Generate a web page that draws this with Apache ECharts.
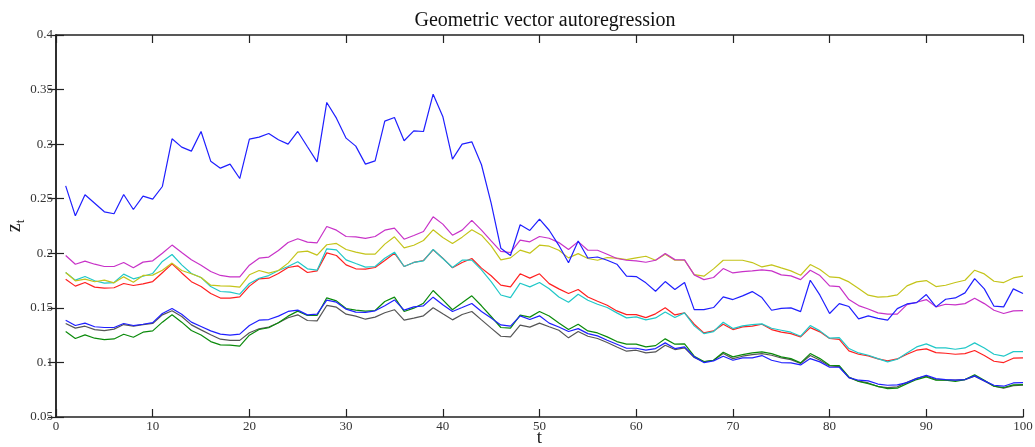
<!DOCTYPE html>
<html><head><meta charset="utf-8">
<script src="https://cdn.jsdelivr.net/npm/echarts@6/dist/echarts.min.js"></script>
<style>html,body{margin:0;padding:0;background:#fff}#c{width:1035px;height:447px}</style>
</head><body><div id="c"></div>
<script>
const titleText = 'Geometric vector autoregression';
const xTicks = [0,10,20,30,40,50,60,70,80,90,100];
const yTicks = [0.05,0.1,0.15,0.2,0.25,0.3,0.35,0.4];

const blueHigh = [0.2618,0.2343,0.2536,0.2459,0.2380,0.2362,0.2539,0.2401,0.2524,0.2496,
0.2612,0.3049,0.2973,0.2936,0.3116,0.2844,0.2780,0.2817,0.2685,0.3046,
0.3064,0.3098,0.3040,0.3000,0.3116,0.2976,0.2838,0.3382,0.3238,0.3055,
0.2982,0.2817,0.2847,0.3211,0.3244,0.3031,0.3122,0.3116,0.3458,0.3254,
0.2863,0.3000,0.3021,0.2811,0.2459,0.2047,0.1980,0.2261,0.2209,0.2313,
0.2211,0.2073,0.1914,0.2112,0.1957,0.1966,0.1936,0.1900,0.1790,0.1787,
0.1729,0.1652,0.1741,0.1668,0.1732,0.1484,0.1484,0.1503,0.1600,0.1576,
0.1610,0.1649,0.1594,0.1478,0.1496,0.1500,0.1466,0.1753,0.1616,0.1448,
0.1539,0.1512,0.1399,0.1426,0.1404,0.1387,0.1493,0.1536,0.1548,0.1622,
0.1509,0.1579,0.1591,0.1637,0.1768,0.1674,0.1515,0.1509,0.1674,0.1631];

const magenta = [0.1980,0.1900,0.1928,0.1900,0.1879,0.1879,0.1916,0.1867,0.1919,0.1931,
0.2001,0.2075,0.2007,0.1940,0.1891,0.1833,0.1797,0.1784,0.1784,0.1891,
0.1955,0.1965,0.2026,0.2099,0.2133,0.2102,0.2096,0.2246,0.2212,0.2154,
0.2151,0.2136,0.2154,0.2212,0.2230,0.2129,0.2163,0.2200,0.2334,0.2267,
0.2166,0.2212,0.2301,0.2212,0.2114,0.2017,0.2007,0.2120,0.2105,0.2154,
0.2138,0.2098,0.2034,0.2107,0.2028,0.2028,0.1991,0.1952,0.1936,0.1930,
0.1918,0.1936,0.1997,0.1942,0.1939,0.1802,0.1759,0.1778,0.1860,0.1820,
0.1832,0.1839,0.1848,0.1839,0.1802,0.1793,0.1759,0.1845,0.1796,0.1701,
0.1695,0.1576,0.1521,0.1490,0.1454,0.1442,0.1442,0.1530,0.1551,0.1576,
0.1509,0.1533,0.1527,0.1539,0.1588,0.1539,0.1478,0.1448,0.1472,0.1475];

const yellow = [0.1824,0.1748,0.1763,0.1739,0.1754,0.1729,0.1784,0.1735,0.1797,0.1800,
0.1845,0.1910,0.1842,0.1812,0.1778,0.1708,0.1702,0.1699,0.1690,0.1803,
0.1842,0.1818,0.1842,0.1910,0.2010,0.2020,0.1983,0.2078,0.2090,0.2035,
0.2010,0.1992,0.1992,0.2084,0.2151,0.2050,0.2074,0.2117,0.2215,0.2145,
0.2090,0.2148,0.2215,0.2166,0.2068,0.1940,0.1958,0.2029,0.2001,0.2074,
0.2065,0.2028,0.1958,0.1997,0.1952,0.1936,0.1961,0.1955,0.1942,0.1958,
0.1973,0.1936,0.1991,0.1936,0.1936,0.1805,0.1790,0.1857,0.1936,0.1936,
0.1936,0.1915,0.1875,0.1894,0.1866,0.1839,0.1799,0.1897,0.1851,0.1784,
0.1777,0.1738,0.1677,0.1616,0.1598,0.1603,0.1619,0.1701,0.1738,0.1750,
0.1695,0.1707,0.1732,0.1753,0.1845,0.1811,0.1744,0.1732,0.1774,0.1790];

const cyan = [0.1824,0.1754,0.1787,0.1748,0.1726,0.1732,0.1809,0.1766,0.1790,0.1815,
0.1925,0.1989,0.1894,0.1815,0.1778,0.1696,0.1650,0.1644,0.1625,0.1723,
0.1771,0.1796,0.1842,0.1879,0.1922,0.1858,0.1845,0.2041,0.2032,0.1940,
0.1906,0.1873,0.1879,0.1955,0.2010,0.1879,0.1916,0.1931,0.2035,0.1952,
0.1870,0.1937,0.1937,0.1848,0.1741,0.1618,0.1594,0.1726,0.1692,0.1732,
0.1675,0.1600,0.1552,0.1625,0.1570,0.1533,0.1503,0.1454,0.1408,0.1417,
0.1390,0.1408,0.1463,0.1411,0.1454,0.1335,0.1264,0.1283,0.1368,0.1310,
0.1335,0.1347,0.1353,0.1313,0.1295,0.1277,0.1240,0.1338,0.1289,0.1222,
0.1228,0.1127,0.1087,0.1066,0.1035,0.1005,0.1029,0.1087,0.1142,0.1170,
0.1133,0.1133,0.1121,0.1133,0.1179,0.1133,0.1075,0.1057,0.1099,0.1099];

const red = [0.1763,0.1699,0.1732,0.1690,0.1681,0.1684,0.1723,0.1705,0.1720,0.1741,
0.1822,0.1903,0.1820,0.1740,0.1695,0.1632,0.1590,0.1589,0.1601,0.1699,
0.1766,0.1772,0.1815,0.1870,0.1885,0.1824,0.1839,0.2004,0.1980,0.1894,
0.1858,0.1855,0.1870,0.1934,0.2001,0.1879,0.1916,0.1934,0.2032,0.1955,
0.1867,0.1916,0.1952,0.1864,0.1794,0.1708,0.1692,0.1812,0.1772,0.1812,
0.1722,0.1674,0.1631,0.1668,0.1600,0.1561,0.1524,0.1472,0.1438,0.1438,
0.1411,0.1445,0.1500,0.1435,0.1454,0.1350,0.1271,0.1289,0.1350,0.1301,
0.1326,0.1332,0.1350,0.1301,0.1277,0.1264,0.1234,0.1319,0.1280,0.1219,
0.1212,0.1106,0.1075,0.1060,0.1032,0.1014,0.1032,0.1075,0.1112,0.1124,
0.1090,0.1084,0.1075,0.1081,0.1109,0.1063,0.1011,0.0999,0.1039,0.1042];

const green = [0.1283,0.1219,0.1252,0.1222,0.1209,0.1215,0.1258,0.1231,0.1277,0.1289,
0.1369,0.1436,0.1369,0.1292,0.1252,0.1191,0.1161,0.1159,0.1150,0.1250,
0.1302,0.1318,0.1363,0.1424,0.1470,0.1430,0.1430,0.1592,0.1564,0.1494,
0.1479,0.1470,0.1476,0.1558,0.1598,0.1467,0.1497,0.1543,0.1659,0.1573,
0.1483,0.1546,0.1610,0.1519,0.1421,0.1320,0.1314,0.1433,0.1415,0.1467,
0.1426,0.1362,0.1301,0.1350,0.1289,0.1270,0.1234,0.1191,0.1167,0.1167,
0.1142,0.1154,0.1216,0.1167,0.1170,0.1057,0.1008,0.1020,0.1093,0.1051,
0.1072,0.1087,0.1096,0.1081,0.1051,0.1035,0.0996,0.1081,0.1035,0.0974,
0.0971,0.0867,0.0825,0.0806,0.0780,0.0760,0.0764,0.0806,0.0843,0.0867,
0.0837,0.0837,0.0825,0.0843,0.0886,0.0837,0.0782,0.0770,0.0794,0.0797];

const gray = [0.1357,0.1314,0.1332,0.1301,0.1292,0.1305,0.1347,0.1332,0.1347,0.1357,
0.1436,0.1473,0.1421,0.1344,0.1298,0.1253,0.1213,0.1202,0.1202,0.1272,
0.1308,0.1324,0.1363,0.1409,0.1436,0.1384,0.1381,0.1522,0.1506,0.1442,
0.1424,0.1396,0.1415,0.1455,0.1483,0.1387,0.1406,0.1427,0.1501,0.1445,
0.1390,0.1439,0.1467,0.1390,0.1314,0.1240,0.1234,0.1341,0.1323,0.1360,
0.1327,0.1295,0.1225,0.1283,0.1240,0.1219,0.1182,0.1142,0.1103,0.1112,
0.1087,0.1096,0.1158,0.1118,0.1133,0.1045,0.1005,0.1020,0.1081,0.1035,
0.1057,0.1072,0.1081,0.1066,0.1041,0.1026,0.0990,0.1063,0.1020,0.0968,
0.0962,0.0861,0.0828,0.0812,0.0779,0.0770,0.0776,0.0818,0.0855,0.0874,
0.0843,0.0837,0.0837,0.0843,0.0874,0.0831,0.0782,0.0764,0.0788,0.0791];

const blueLow = [0.1387,0.1338,0.1360,0.1327,0.1320,0.1320,0.1357,0.1338,0.1350,0.1365,
0.1448,0.1494,0.1442,0.1369,0.1329,0.1289,0.1259,0.1250,0.1259,0.1338,
0.1387,0.1393,0.1424,0.1467,0.1479,0.1436,0.1442,0.1571,0.1552,0.1488,
0.1461,0.1458,0.1473,0.1519,0.1573,0.1479,0.1509,0.1519,0.1598,0.1528,
0.1467,0.1503,0.1540,0.1467,0.1406,0.1344,0.1332,0.1427,0.1393,0.1427,
0.1360,0.1325,0.1283,0.1310,0.1264,0.1243,0.1203,0.1167,0.1130,0.1130,
0.1112,0.1127,0.1179,0.1127,0.1142,0.1051,0.0999,0.1014,0.1057,0.1020,
0.1041,0.1041,0.1063,0.1020,0.0999,0.0996,0.0977,0.1035,0.1005,0.0956,
0.0956,0.0861,0.0837,0.0831,0.0802,0.0791,0.0794,0.0815,0.0852,0.0883,
0.0852,0.0843,0.0837,0.0843,0.0877,0.0831,0.0791,0.0782,0.0812,0.0815];

const seriesDefs = [
  {name:'s1', data: gray, color:'#555555'},
  {name:'s2', data: green, color:'#0a8a0a'},
  {name:'s3', data: blueLow, color:'#1f1fff'},
  {name:'s4', data: red, color:'#ff2020'},
  {name:'s5', data: cyan, color:'#20c8c8'},
  {name:'s6', data: yellow, color:'#c4c41a'},
  {name:'s7', data: magenta, color:'#c832c8'},
  {name:'s8', data: blueHigh, color:'#1f1fff'}
];

const serif = 'Liberation Serif, DejaVu Serif, serif';
const axisCommon = {
  axisLine: {show: true, lineStyle: {color: '#222', width: 1.5}},
  axisTick: {show: true, inside: true, length: 8, lineStyle: {color: '#222', width: 1.2}},
  splitLine: {show: false}
};

const chart = echarts.init(document.getElementById('c'), null, {renderer: 'canvas'});
chart.setOption({
  animation: false,
  backgroundColor: '#fff',
  title: {text: titleText, left: 540, top: 6, textAlign: 'center',
    textStyle: {fontFamily: serif, fontSize: 20, fontWeight: 'normal', color: '#111'}},
  grid: {left: 56, right: 12, top: 35, bottom: 30, containLabel: false, outerBoundsMode: 'none'},
  xAxis: [
    Object.assign({type: 'value', position: 'bottom', min: 0, max: 100, interval: 10,
      name: 't', nameLocation: 'middle', nameGap: 12, nameMoveOverlap: false,
      nameTextStyle: {fontFamily: serif, fontSize: 19, color: '#222'},
      axisLabel: {fontFamily: serif, fontSize: 13, color: '#333', margin: 3,
        formatter: v => xTicks.includes(v) ? String(v) : ''}}, axisCommon),
    Object.assign({type: 'value', position: 'top', min: 0, max: 100, interval: 10,
      axisLabel: {show: false}}, axisCommon)
  ],
  yAxis: [
    Object.assign({type: 'value', position: 'left', min: 0.05, max: 0.4, interval: 0.05,
      name: '{z|z}{t|t}', nameLocation: 'middle', nameGap: 29, nameRotate: 90, nameMoveOverlap: false,
      nameTextStyle: {rich: {
        z: {fontFamily: serif, fontSize: 20, color: '#222'},
        t: {fontFamily: serif, fontSize: 13, color: '#222', padding: [12, 0, 0, 0]}
      }},
      axisLabel: {fontFamily: serif, fontSize: 13, color: '#333', margin: 3,
        formatter: v => { const m = yTicks.find(t => Math.abs(t - v) < 1e-9); return m === undefined ? '' : String(+m.toFixed(2)); }}}, axisCommon),
    Object.assign({type: 'value', position: 'right', min: 0.05, max: 0.4, interval: 0.05,
      axisLabel: {show: false}}, axisCommon)
  ],
  series: seriesDefs.map(s => ({
    name: s.name, type: 'line', xAxisIndex: 0, yAxisIndex: 0,
    data: s.data.map((v, i) => [i + 1, v]),
    showSymbol: false, symbol: 'none',
    lineStyle: {color: s.color, width: 1.2},
    itemStyle: {color: s.color},
    clip: true
  }))
});
</script></body></html>
